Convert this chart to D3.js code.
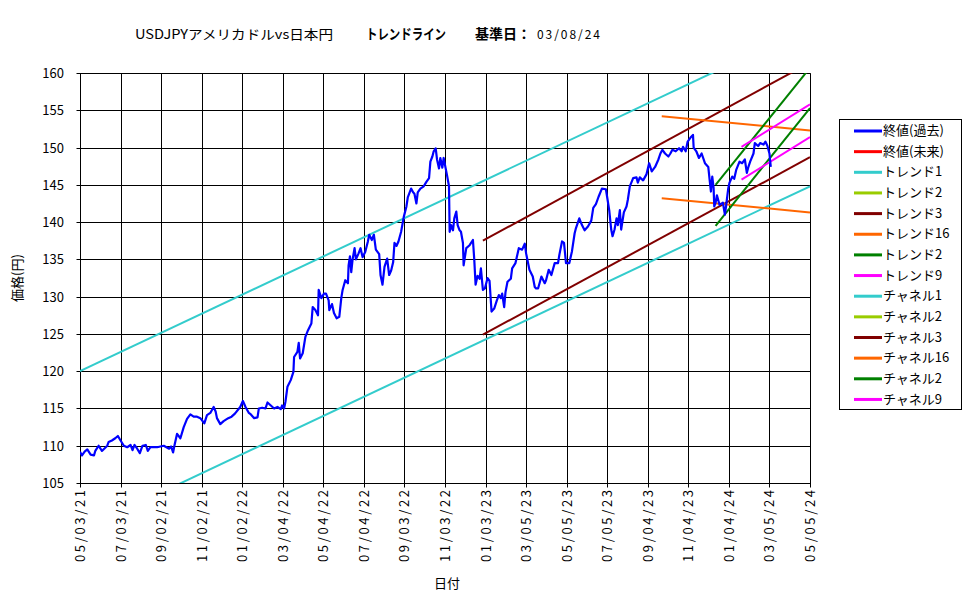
<!DOCTYPE html>
<html><head><meta charset="utf-8">
<script src="https://cdn.jsdelivr.net/npm/d3@7/dist/d3.min.js"></script>
<style>
body{margin:0;background:#fff}
text{font-family:'Noto Sans CJK JP','Noto Sans',sans-serif;fill:#000}
</style>
</head><body>
<svg id="chart" width="975" height="599"></svg>
<script>
// ---------------- DATA ----------------
const titleMain = "USDJPYアメリカドルvs日本円";
const titleTrend = "トレンドライン";
const titleBase = "基準日：";
const titleDate = "03/08/24";
const xTitle = "日付";
const yTitle = "価格(円)";

const tickLabels = ["05/03/21","07/03/21","09/02/21","11/02/21","01/02/22","03/04/22","05/04/22","07/04/22","09/03/22","11/03/22","01/03/23","03/05/23","05/05/23","07/05/23","09/04/23","11/04/23","01/04/24","03/05/24","05/05/24"];
const yTicks = [105,110,115,120,125,130,135,140,145,150,155,160];

const priceDates = [
"2021-05-03","2021-05-06","2021-05-10","2021-05-14","2021-05-19","2021-05-24","2021-05-26","2021-05-31","2021-06-05","2021-06-13",
"2021-06-15","2021-06-20","2021-06-25","2021-06-29","2021-07-03","2021-07-08","2021-07-13","2021-07-18","2021-07-21","2021-07-24",
"2021-07-28","2021-08-01","2021-08-05","2021-08-10","2021-08-13","2021-08-17","2021-08-27","2021-09-06","2021-09-14","2021-09-17",
"2021-09-20","2021-09-22","2021-09-26","2021-10-01","2021-10-06","2021-10-11","2021-10-16","2021-10-21","2021-10-26","2021-10-31",
"2021-11-06","2021-11-10","2021-11-15","2021-11-20","2021-11-23","2021-11-25","2021-11-30","2021-12-05","2021-12-12","2021-12-17",
"2021-12-22","2021-12-30","2022-01-03","2022-01-07","2022-01-12","2022-01-15","2022-01-20","2022-01-25","2022-01-27","2022-02-01",
"2022-02-06","2022-02-09","2022-02-14","2022-02-19","2022-02-24","2022-03-01","2022-03-03","2022-03-06","2022-03-08","2022-03-11",
"2022-03-16","2022-03-20","2022-03-21","2022-03-26","2022-03-28","2022-03-30","2022-04-03","2022-04-07","2022-04-11","2022-04-16",
"2022-04-18","2022-04-22","2022-04-26","2022-04-27","2022-05-01","2022-05-05","2022-05-08","2022-05-12","2022-05-13","2022-05-17",
"2022-05-20","2022-05-24","2022-05-28","2022-05-31","2022-06-02","2022-06-06","2022-06-10","2022-06-11","2022-06-13","2022-06-15",
"2022-06-17","2022-06-20","2022-06-22","2022-06-26","2022-06-29","2022-07-02","2022-07-06","2022-07-10","2022-07-12","2022-07-16",
"2022-07-19","2022-07-22","2022-07-27","2022-07-29","2022-08-01","2022-08-04","2022-08-08","2022-08-11","2022-08-14","2022-08-17",
"2022-08-19","2022-08-22","2022-08-25","2022-08-29","2022-09-02","2022-09-06","2022-09-08","2022-09-13","2022-09-16","2022-09-18",
"2022-09-21","2022-09-23","2022-09-27","2022-10-02","2022-10-06","2022-10-10","2022-10-12","2022-10-15","2022-10-17","2022-10-20",
"2022-10-22","2022-10-25","2022-10-27","2022-10-30","2022-11-01","2022-11-04","2022-11-06","2022-11-09","2022-11-10","2022-11-12",
"2022-11-15","2022-11-17","2022-11-20","2022-11-22","2022-11-25","2022-11-27","2022-11-30","2022-12-01","2022-12-05","2022-12-10",
"2022-12-15","2022-12-17","2022-12-19","2022-12-22","2022-12-25","2022-12-27","2022-12-30","2023-01-02","2023-01-06","2023-01-09",
"2023-01-12","2023-01-16","2023-01-20","2023-01-23","2023-01-26","2023-01-28","2023-01-31","2023-02-02","2023-02-05","2023-02-10",
"2023-02-12","2023-02-17","2023-02-22","2023-02-27","2023-03-03","2023-03-05","2023-03-10","2023-03-15","2023-03-18","2023-03-20",
"2023-03-23","2023-03-28","2023-04-02","2023-04-04","2023-04-08","2023-04-12","2023-04-17","2023-04-22","2023-04-24","2023-04-28",
"2023-05-01","2023-05-04","2023-05-09","2023-05-13","2023-05-17","2023-05-19","2023-05-24","2023-05-28","2023-06-01","2023-06-06",
"2023-06-11","2023-06-14","2023-06-18","2023-06-22","2023-06-27","2023-07-03","2023-07-05","2023-07-08","2023-07-11","2023-07-13",
"2023-07-16","2023-07-19","2023-07-21","2023-07-24","2023-07-26","2023-07-30","2023-08-03","2023-08-05","2023-08-08","2023-08-13",
"2023-08-18","2023-08-20","2023-08-23","2023-08-28","2023-09-02","2023-09-06","2023-09-10","2023-09-15","2023-09-20","2023-09-23",
"2023-09-26","2023-09-30","2023-10-05","2023-10-08","2023-10-11","2023-10-16","2023-10-21","2023-10-25","2023-10-27","2023-10-31",
"2023-11-03","2023-11-07","2023-11-11","2023-11-12","2023-11-16","2023-11-20","2023-11-24","2023-11-29","2023-12-04","2023-12-06",
"2023-12-08","2023-12-10","2023-12-12","2023-12-13","2023-12-15","2023-12-17","2023-12-21","2023-12-26","2023-12-29","2023-12-31",
"2024-01-03","2024-01-05","2024-01-09","2024-01-12","2024-01-15","2024-01-20","2024-01-24","2024-01-28","2024-01-31","2024-02-02",
"2024-02-05","2024-02-10","2024-02-12","2024-02-17","2024-02-20","2024-02-25","2024-02-28","2024-03-02","2024-03-05","2024-03-07"
];
const priceValues = [
109.2,108.7,109.2,109.5,108.8,108.7,109.3,110.0,109.3,110.0,
110.5,110.7,111.0,111.3,110.7,110.0,109.8,110.1,109.4,110.1,
109.6,109.0,110.0,110.1,109.3,109.8,109.8,110.0,109.6,109.9,
109.1,110.0,111.6,111.0,112.5,113.6,114.2,113.9,113.9,113.7,
113.0,114.1,114.4,115.2,114.6,113.7,112.9,113.3,113.7,113.9,
114.3,115.2,116.0,115.2,114.4,114.2,113.7,113.8,115.0,115.1,
115.0,115.8,115.4,115.0,115.2,114.9,115.4,115.0,115.9,117.9,
118.8,119.9,121.9,122.6,123.8,121.7,122.4,124.6,125.5,126.4,
128.6,128.2,127.5,130.9,129.8,130.4,130.4,129.5,128.2,129.0,
127.8,127.1,127.3,129.8,130.9,132.2,131.8,134.2,135.4,133.3,
135.0,136.5,135.0,135.8,136.5,135.3,136.0,137.4,138.3,137.6,
138.3,136.3,135.7,132.9,131.6,134.0,135.1,132.9,133.5,134.6,
137.2,136.8,137.4,138.7,140.7,142.1,143.3,144.5,144.0,143.8,
142.5,144.0,144.5,144.8,145.4,145.9,148.1,148.8,149.5,149.9,
148.4,147.2,148.6,147.3,148.6,147.2,146.3,144.8,138.7,139.6,
138.9,140.5,141.4,139.6,138.9,138.7,137.2,134.2,136.5,136.9,
137.6,135.0,131.6,132.8,132.4,133.8,130.9,131.1,132.5,132.1,
128.0,128.4,129.5,130.2,129.8,130.4,128.6,130.6,132.0,132.4,
133.8,134.5,136.5,136.3,137.1,135.8,133.6,132.7,131.3,131.1,
131.1,132.7,131.8,132.2,133.6,132.9,134.5,134.5,135.6,137.4,
137.2,134.5,134.5,136.1,138.5,139.2,140.5,139.6,138.9,139.4,
140.2,141.9,142.4,143.4,144.5,144.4,143.3,141.6,139.0,138.1,
139.0,140.5,139.6,141.6,139.0,141.3,142.1,143.0,144.8,145.9,
146.0,145.3,146.0,145.6,146.4,147.9,146.8,147.4,148.4,149.2,
149.7,149.2,148.8,149.2,149.7,149.5,149.9,149.5,150.1,149.5,
150.8,151.3,151.7,150.0,149.5,148.6,149.2,147.9,147.4,145.7,
144.1,146.1,144.6,142.1,142.6,143.6,142.3,142.6,141.0,142.3,
144.5,145.3,146.1,145.8,147.0,148.1,147.9,148.4,146.6,147.3,
148.1,149.2,150.6,150.2,150.6,150.4,150.8,150.2,149.2,147.4
];

// Trend / channel lines: drawn ones (start date, start value, end date, end value)
const lineNames  = ["トレンド1","チャネル1","トレンド3","チャネル3","トレンド16","チャネル16","トレンド2","チャネル2","トレンド9","チャネル9"];
const lineStartDates = ["2021-05-03","2021-05-03","2022-12-30","2022-12-30","2023-09-25","2023-09-25","2023-12-15","2023-12-15","2024-01-23","2024-01-23"];
const lineStartValues = [120.0, 98.6, 137.5, 124.9, 154.2, 143.2, 145.0, 139.5, 150.1, 145.7];
const lineEndDates = ["2024-05-05","2024-05-05","2024-05-05","2024-05-05","2024-05-05","2024-05-05","2024-05-05","2024-05-05","2024-05-05","2024-05-05"];
const lineEndValues = [166.2, 144.8, 161.4, 148.7, 152.3, 141.3, 160.7, 155.3, 155.8, 151.4];

// Legend entries
const legendNames = ["終値(過去)","終値(未来)","トレンド1","トレンド2","トレンド3","トレンド16","トレンド2","トレンド9","チャネル1","チャネル2","チャネル3","チャネル16","チャネル2","チャネル9"];

// ---------------- STYLE ----------------
const legendColors = ["#0000FF","#FF0000","#33CCCC","#99CC00","#800000","#FF6600","#008000","#FF00FF","#33CCCC","#99CC00","#800000","#FF6600","#008000","#FF00FF"];
const lineColors = ["#33CCCC","#33CCCC","#800000","#800000","#FF6600","#FF6600","#008000","#008000","#FF00FF","#FF00FF"];

const L = 80, R = 810, T = 73, B = 483;

const svg = d3.select("#chart");
const parseTick = d3.timeParse("%m/%d/%y");
const parseISO = d3.timeParse("%Y-%m-%d");
const tickDates = tickLabels.map(parseTick);

const x = d3.scaleTime().domain([tickDates[0], tickDates[tickDates.length-1]]).range([L, R]);
const y = d3.scaleLinear().domain([105,160]).range([B, T]);

svg.append("rect").attr("x",0).attr("y",0).attr("width",975).attr("height",599).attr("fill","#fff");
svg.append("defs").append("clipPath").attr("id","plotclip")
  .append("rect").attr("x",L).attr("y",T).attr("width",R-L).attr("height",B-T);

// plot border (top/right grey)
svg.append("rect").attr("x",L+0.5).attr("y",T+0.5).attr("width",R-L).attr("height",B-T)
  .attr("fill","#fff").attr("stroke","#808080").attr("stroke-width",1);

// grid via axes
const fmtTick = d => tickLabels[tickDates.findIndex(t => +t === +d)];
const gx = svg.append("g").attr("transform",`translate(0.5,${B+0.5})`)
  .call(d3.axisBottom(x).tickValues(tickDates).tickSizeInner(-(B-T)).tickSizeOuter(0).tickFormat(""));
gx.selectAll(".tick").attr("transform", d => `translate(${Math.round(x(d))},0)`);
gx.selectAll(".tick line").attr("stroke","#000").attr("y2",-(B-T)).attr("y1",4);
gx.select(".domain").remove();

const gy = svg.append("g").attr("transform",`translate(${L+0.5},0.5)`)
  .call(d3.axisLeft(y).tickValues(yTicks).tickSizeInner(-(R-L)).tickSizeOuter(0).tickFormat(""));
gy.selectAll(".tick").attr("transform", d => `translate(0,${Math.round(y(d))})`);
gy.selectAll(".tick line").attr("stroke","#000").attr("x1",-4);
gy.select(".domain").remove();

// axis lines
svg.append("line").attr("x1",L+0.5).attr("x2",L+0.5).attr("y1",T).attr("y2",B+1).attr("stroke","#000");
svg.append("line").attr("x1",L).attr("x2",R+1).attr("y1",B+0.5).attr("y2",B+0.5).attr("stroke","#000");

// tick labels
svg.append("g").selectAll("text").data(yTicks).join("text")
  .attr("x",64).attr("y",d => Math.round(y(d))+0.5).attr("dy","0.36em")
  .attr("text-anchor","end").attr("font-size",13).text(d => d);

svg.append("g").selectAll("text").data(tickDates).join("text")
  .attr("transform",d => `translate(${Math.round(x(d))+0.5},490) rotate(-90)`)
  .attr("dy","0.36em").attr("text-anchor","end").attr("font-size",13)
  .attr("textLength",72).attr("lengthAdjust","spacing")
  .text(fmtTick);

// trend & channel lines
const plot = svg.append("g").attr("clip-path","url(#plotclip)");
const lineData = lineNames.map((n,i) => [
  {d: parseISO(lineStartDates[i]), v: lineStartValues[i]},
  {d: parseISO(lineEndDates[i]), v: lineEndValues[i]}
]);
const lineGen = d3.line().x(p => x(p.d)).y(p => y(p.v));
plot.selectAll("path.trend").data(lineData).join("path").attr("class","trend")
  .attr("d",lineGen).attr("fill","none")
  .attr("stroke",(d,i) => lineColors[i]).attr("stroke-width",2);

// price line
const priceData = priceDates.map((d,i) => ({d: parseISO(d), v: priceValues[i]}));
plot.append("path").datum(priceData).attr("d",lineGen)
  .attr("fill","none").attr("stroke","#0000FF").attr("stroke-width",2.2).attr("stroke-linejoin","round");

// titles
svg.append("text").attr("x",135).attr("y",39).attr("font-size",13)
  .attr("textLength",198).attr("lengthAdjust","spacingAndGlyphs").text(titleMain);
svg.append("text").attr("x",366).attr("y",39).attr("font-size",14).attr("font-weight","bold")
  .attr("textLength",80).attr("lengthAdjust","spacingAndGlyphs").text(titleTrend);
svg.append("text").attr("x",475).attr("y",39).attr("font-size",14).attr("font-weight","bold").text(titleBase);
svg.append("text").attr("x",537).attr("y",39).attr("font-size",12)
  .attr("textLength",63).attr("lengthAdjust","spacing").text(titleDate);

svg.append("text").attr("x",447).attr("y",588).attr("text-anchor","middle").attr("font-size",13).text(xTitle);
svg.append("text").attr("transform","translate(22,278) rotate(-90)").attr("text-anchor","middle")
  .attr("font-size",13).text(yTitle);

// legend
const lg = svg.append("g");
lg.append("rect").attr("x",839.5).attr("y",119.5).attr("width",122).attr("height",290)
  .attr("fill","#fff").attr("stroke","#000");
const items = lg.selectAll("g.item").data(legendNames).join("g").attr("class","item")
  .attr("transform",(d,i) => `translate(0,${130.5 + i*20.65})`);
items.append("line").attr("x1",854).attr("x2",882).attr("y1",0.5).attr("y2",0.5)
  .attr("stroke",(d,i) => legendColors[i]).attr("stroke-width",3);
items.append("text").attr("x",883).attr("y",0).attr("dy","0.36em").attr("font-size",13).text(d => d);
</script>
</body></html>
